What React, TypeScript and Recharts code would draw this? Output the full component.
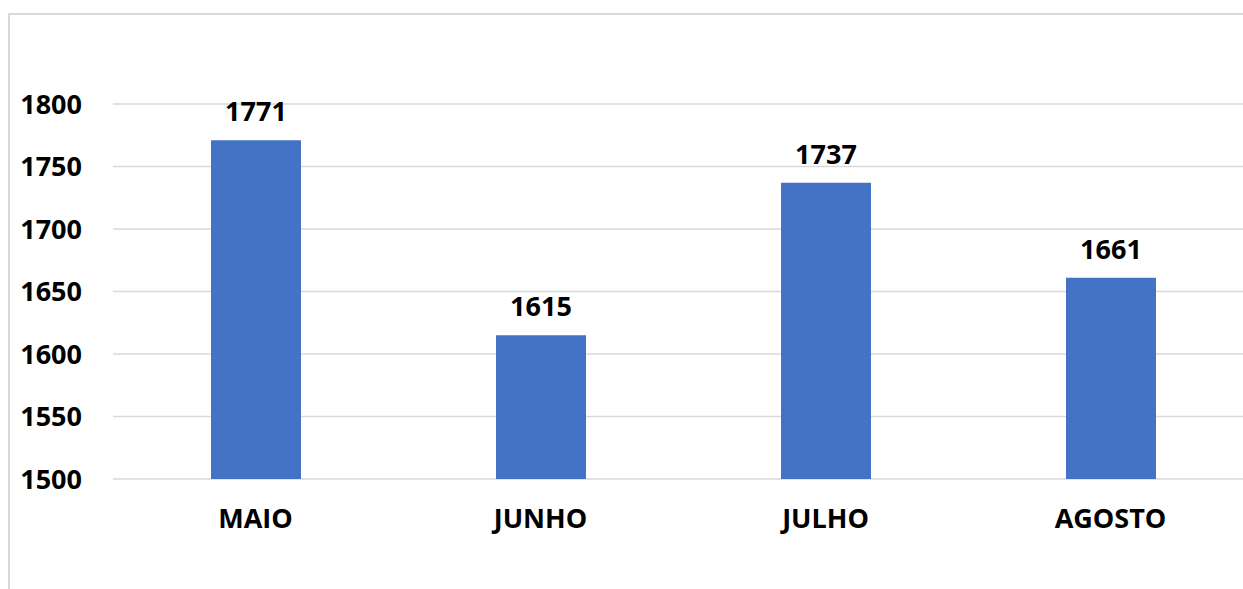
import { Bar, BarChart, CartesianGrid, LabelList, XAxis, YAxis } from "recharts";

const months = ["MAIO", "JUNHO", "JULHO", "AGOSTO"];
const totals = [1771, 1615, 1737, 1661];
const yTicks = [1500, 1550, 1600, 1650, 1700, 1750, 1800];

const data = months.map((name, i) => ({ name, total: totals[i] }));

const font = "'Open Sans', sans-serif";

export default function App() {
  return (
    <div
      style={{
        position: "absolute",
        left: 0,
        top: 0,
        width: 1243,
        height: 589,
        overflow: "hidden",
        background: "#fff",
      }}
    >
      <div
        style={{
          position: "absolute",
          left: 8,
          top: 13,
          width: 1400,
          height: 700,
          borderLeft: "2px solid #d9d9d9",
          borderTop: "2px solid #d9d9d9",
        }}
      />
      <div style={{ position: "absolute", left: 0, top: 0 }}>
        <BarChart
          width={1300}
          height={600}
          data={data}
          margin={{ top: 104, right: 47, bottom: 61, left: 13 }}
          barSize={90}
        >
          <CartesianGrid vertical={false} stroke="#d9d9d9" strokeWidth={1.5} />
          <XAxis
            dataKey="name"
            axisLine={false}
            tickLine={false}
            tickSize={0}
            tickMargin={30}
            height={60}
            tick={{ fill: "#000", fontSize: 27, fontWeight: 700, fontFamily: font }}
          />
          <YAxis
            domain={[1500, 1800]}
            ticks={yTicks}
            axisLine={false}
            tickLine={false}
            tickSize={0}
            tickMargin={31}
            width={100}
            tick={{ fill: "#000", fontSize: 27, fontWeight: 700, fontFamily: font }}
          />
          <Bar dataKey="total" fill="#4472c4" isAnimationActive={false}>
            <LabelList
              dataKey="total"
              position="top"
              offset={19}
              style={{ fill: "#000", fontSize: 27, fontWeight: 700, fontFamily: font }}
            />
          </Bar>
        </BarChart>
      </div>
    </div>
  );
}
